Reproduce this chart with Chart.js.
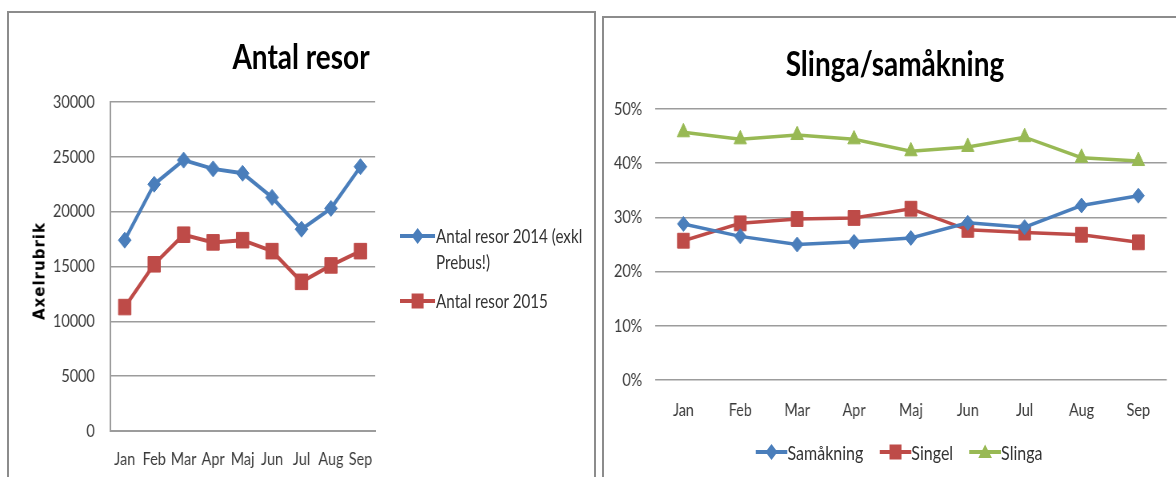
<!DOCTYPE html>
<html><head><meta charset="utf-8">
<script src="https://cdn.jsdelivr.net/npm/chart.js@4.4.1/dist/chart.umd.min.js"></script>
<style>
html,body{margin:0;padding:0;background:#fff;width:1176px;height:477px;overflow:hidden;font-family:Lato,sans-serif;}
.panel{position:absolute;border:2px solid #8c8c8c;border-bottom:none;box-sizing:border-box;}
#p1{left:7px;top:11px;width:589px;height:480px;}
#p2{left:602px;top:16px;width:590px;height:480px;border-right:none;}
canvas{position:absolute;top:0;transform-origin:0 0;transform:scaleX(0.8);}
#c1{left:0;}
#c2{left:600px;}
.title{position:absolute;font-weight:bold;font-size:35px;color:#000;white-space:nowrap;transform:translate(-50%,-50%) scaleX(0.8);line-height:1;}
#ytitle{position:absolute;left:40px;top:271px;transform:translate(-50%,-50%) rotate(-90deg);font-family:"DejaVu Sans",Verdana,sans-serif;font-weight:bold;font-size:15px;letter-spacing:1px;color:#000;white-space:nowrap;line-height:1;}
#lg1{position:absolute;left:400px;top:0;transform-origin:0 0;transform:scaleX(0.8);font-size:19px;color:#333;}
.lgtext{position:absolute;line-height:26px;white-space:nowrap;}
.lgicon{position:absolute;}
#lg2{position:absolute;left:899px;top:452px;transform:translate(-50%,-50%) scaleX(0.8);display:flex;align-items:center;font-size:20px;color:#333;white-space:nowrap;}
#lg2 .it{display:flex;align-items:center;margin:0 10px;}
</style>
</head><body>
<div class="panel" id="p1"></div>
<div class="panel" id="p2"></div>
<canvas id="c1" width="750" height="477"></canvas>
<canvas id="c2" width="720" height="477"></canvas>
<div class="title" style="left:301px;top:55px;">Antal resor</div>
<div class="title" style="left:895px;top:62px;">Slinga/samåkning</div>
<div id="ytitle">Axelrubrik</div>
<div id="lg1"></div>
<div id="lg2"></div>
<script>
const months = ['Jan','Feb','Mar','Apr','Maj','Jun','Jul','Aug','Sep'];
const resor2014 = [17400,22500,24700,23900,23500,21300,18400,20300,24100];
const resor2015 = [11300,15200,17900,17200,17400,16400,13600,15100,16400];
const resorMax = 30000, resorStep = 5000;
const samakning = [28.8,26.5,25.0,25.5,26.2,29.0,28.2,32.2,34.0];
const singel    = [25.7,28.9,29.7,29.9,31.6,27.7,27.2,26.8,25.4];
const slinga    = [45.7,44.4,45.2,44.4,42.2,43.0,44.8,41.0,40.4];
const pctMax = 50, pctStep = 10;
const leftNames = ['Antal resor 2014 (exkl Prebus!)','Antal resor 2015'];
const rightNames = ['Samåkning','Singel','Slinga'];

const BLUE='#4a7ebb', RED='#be4b48', GREEN='#98b954';
const FONT='Lato, sans-serif';
const TICKC='#3a3a3a', GRIDC='#9c9c9c';

function ds(label,data,color,style,r,bw){
  return {label,data,borderColor:color,backgroundColor:color,pointStyle:style,pointRadius:r,
    pointHoverRadius:r,pointBorderWidth:1,borderWidth:bw,tension:0,fill:false};
}

new Chart(document.getElementById('c1'),{
  type:'line',
  data:{labels:months,datasets:[
    ds(leftNames[0],resor2014,BLUE,'rectRot',8,4),
    ds(leftNames[1],resor2015,RED,'rect',11,4)
  ]},
  options:{responsive:false,animation:false,devicePixelRatio:1,
    layout:{padding:{left:0,right:281,top:102,bottom:0}},
    plugins:{legend:{display:false},tooltip:{enabled:false}},
    scales:{
      x:{offset:true,grid:{display:false,drawTicks:false},border:{display:true,color:GRIDC,width:2},
        ticks:{padding:17,color:TICKC,font:{family:FONT,size:18},maxRotation:0,autoSkip:false},
        afterFit(s){s.height=46;}},
      y:{min:0,max:resorMax,grid:{color:GRIDC,lineWidth:1.5,drawTicks:false},border:{display:true,color:GRIDC,width:2},
        ticks:{stepSize:resorStep,padding:19,color:TICKC,font:{family:FONT,size:18},callback:v=>String(v)},
        afterFit(s){s.width=137.5;}}
    }}
});

new Chart(document.getElementById('c2'),{
  type:'line',
  data:{labels:months,datasets:[
    ds(rightNames[0],samakning,BLUE,'rectRot',7.5,3.5),
    ds(rightNames[1],singel,RED,'rect',10.5,3.5),
    ds(rightNames[2],slinga,GREEN,'triangle',9,3.5)
  ]},
  options:{responsive:false,animation:false,devicePixelRatio:1,
    layout:{padding:{left:0,right:5,top:109,bottom:0}},
    plugins:{legend:{display:false},tooltip:{enabled:false}},
    scales:{
      x:{offset:true,grid:{display:false,drawTicks:false},border:{display:false},
        ticks:{padding:19,color:TICKC,font:{family:FONT,size:18},maxRotation:0,autoSkip:false},
        afterFit(s){s.height=97;}},
      y:{min:0,max:pctMax,grid:{color:GRIDC,lineWidth:1.5,drawTicks:false},border:{display:false},
        ticks:{stepSize:pctStep,padding:16,color:TICKC,font:{family:FONT,size:18},callback:v=>v+'%'},
        afterFit(s){s.width=68.75;}}
    }}
});

function icon(color,shape,w,h){
  const cx=w/2, cy=h/2; let m='';
  if(shape==='diamond') m=`<polygon points="${cx-7.5},${cy} ${cx},${cy-8} ${cx+7.5},${cy} ${cx},${cy+8}" fill="${color}"/>`;
  if(shape==='square') m=`<rect x="${cx-7.5}" y="${cy-7.5}" width="15" height="15" fill="${color}"/>`;
  if(shape==='triangle') m=`<polygon points="${cx},${cy-7.5} ${cx+8.5},${cy+6} ${cx-8.5},${cy+6}" fill="${color}"/>`;
  return `<svg width="${w}" height="${h}" xmlns="http://www.w3.org/2000/svg"><line x1="0" y1="${cy}" x2="${w}" y2="${cy}" stroke="${color}" stroke-width="4"/>${m}</svg>`;
}
const lg1=document.getElementById('lg1');
lg1.innerHTML=
 `<div class="lgicon" style="left:0;top:226px;">${icon(BLUE,'diamond',44,20)}</div>`+
 `<div class="lgtext" style="left:45px;top:223px;">Antal resor 2014 (exkl<br>Prebus!)</div>`+
 `<div class="lgicon" style="left:0;top:291px;">${icon(RED,'square',44,20)}</div>`+
 `<div class="lgtext" style="left:45px;top:288px;">${leftNames[1]}</div>`;
const lg2=document.getElementById('lg2');
const cols=[BLUE,RED,GREEN], shapes=['diamond','square','triangle'];
lg2.innerHTML=rightNames.map((n,i)=>`<div class="it">${icon(cols[i],shapes[i],40,20)}<span>${n}</span></div>`).join('');
</script>
</body></html>
